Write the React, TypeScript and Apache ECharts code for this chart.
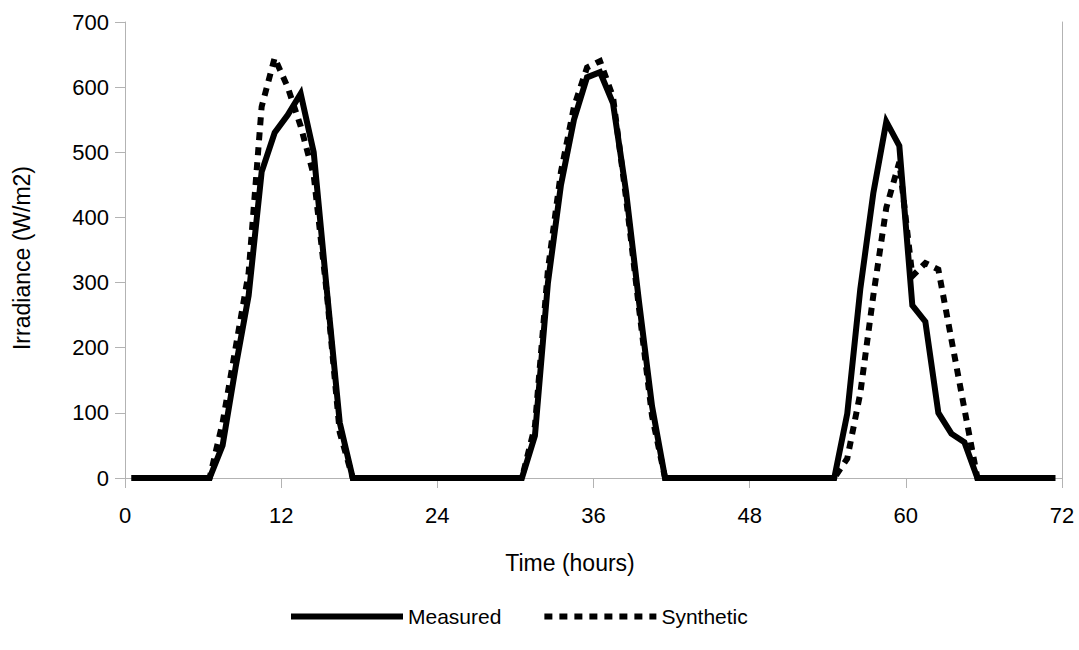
import React, { useEffect, useRef } from "react";
import * as echarts from "echarts";

// Hourly samples, plotted at the middle of each hour (0.5 … 71.5)
const hours = [
  0.5, 1.5, 2.5, 3.5, 4.5, 5.5, 6.5, 7.5, 8.5, 9.5, 10.5, 11.5,
  12.5, 13.5, 14.5, 15.5, 16.5, 17.5, 18.5, 19.5, 20.5, 21.5, 22.5, 23.5,
  24.5, 25.5, 26.5, 27.5, 28.5, 29.5, 30.5, 31.5, 32.5, 33.5, 34.5, 35.5,
  36.5, 37.5, 38.5, 39.5, 40.5, 41.5, 42.5, 43.5, 44.5, 45.5, 46.5, 47.5,
  48.5, 49.5, 50.5, 51.5, 52.5, 53.5, 54.5, 55.5, 56.5, 57.5, 58.5, 59.5,
  60.5, 61.5, 62.5, 63.5, 64.5, 65.5, 66.5, 67.5, 68.5, 69.5, 70.5, 71.5,
];

const measured = [
  0, 0, 0, 0, 0, 0, 0, 50, 170, 280, 470, 530,
  557, 590, 500, 290, 85, 0, 0, 0, 0, 0, 0, 0,
  0, 0, 0, 0, 0, 0, 0, 65, 300, 450, 550, 615,
  623, 575, 440, 270, 110, 0, 0, 0, 0, 0, 0, 0,
  0, 0, 0, 0, 0, 0, 0, 99, 290, 437, 547, 510,
  265, 240, 100, 68, 55, 0, 0, 0, 0, 0, 0, 0,
];

const synthetic = [
  0, 0, 0, 0, 0, 0, 0, 85, 200, 315, 570, 645,
  600, 540, 465, 285, 70, 0, 0, 0, 0, 0, 0, 0,
  0, 0, 0, 0, 0, 0, 0, 80, 320, 470, 570, 630,
  640, 585, 430, 260, 95, 0, 0, 0, 0, 0, 0, 0,
  0, 0, 0, 0, 0, 0, 0, 30, 130, 280, 415, 485,
  310, 330, 320, 213, 106, 0, 0, 0, 0, 0, 0, 0,
];

const xTicks = { min: 0, max: 72, interval: 12 };
const yTicks = { min: 0, max: 700, interval: 100 };

const FONT = "'Liberation Sans', Arial, sans-serif";
const AXIS_GRAY = "#b3b3b3";

export default function App() {
  const ref = useRef<HTMLDivElement>(null);

  useEffect(() => {
    if (!ref.current) return;
    const chart = echarts.init(ref.current, undefined, { renderer: "svg" });

    const pairs = (vals: number[]) => hours.map((h, i) => [h, vals[i]]);

    chart.setOption({
      animation: false,
      backgroundColor: "#ffffff",
      textStyle: { fontFamily: FONT, color: "#000" },
      grid: { left: 125, right: 17, top: 22, bottom: 172, containLabel: false },
      xAxis: {
        type: "value",
        min: xTicks.min,
        max: xTicks.max,
        interval: xTicks.interval,
        axisLine: { show: true, lineStyle: { color: AXIS_GRAY, width: 1 } },
        axisTick: { show: true, length: 10, lineStyle: { color: AXIS_GRAY } },
        splitLine: { show: false },
        axisLabel: { color: "#000", fontSize: 22, fontFamily: FONT, margin: 26 },
      },
      yAxis: [
        {
          type: "value",
          min: yTicks.min,
          max: yTicks.max,
          interval: yTicks.interval,
          axisLine: { show: true, lineStyle: { color: AXIS_GRAY, width: 1 } },
          axisTick: { show: true, length: 10, lineStyle: { color: AXIS_GRAY } },
          splitLine: { show: false },
          axisLabel: { color: "#000", fontSize: 22, fontFamily: FONT, margin: 16 },
        },
        {
          type: "value",
          position: "right",
          min: yTicks.min,
          max: yTicks.max,
          interval: yTicks.interval,
          axisLine: { show: true, lineStyle: { color: AXIS_GRAY, width: 1 } },
          axisTick: { show: false },
          axisLabel: { show: false },
          splitLine: { show: false },
        },
      ],
      legend: {
        left: 283,
        top: 601,
        itemWidth: 112,
        itemHeight: 14,
        itemGap: 40,
        textStyle: { fontSize: 21, color: "#000", fontFamily: FONT },
        itemStyle: { opacity: 0 },
        lineStyle: { width: 6 },
        data: ["Measured", "Synthetic"],
      },
      graphic: [
        {
          type: "text",
          x: 570,
          y: 563,
          style: {
            text: "Time (hours)",
            fontSize: 23,
            fontFamily: FONT,
            fill: "#000",
            align: "center",
            verticalAlign: "middle",
          },
        },
        {
          type: "text",
          x: 22,
          y: 258,
          rotation: Math.PI / 2,
          style: {
            text: "Irradiance (W/m2)",
            fontSize: 23,
            fontFamily: FONT,
            fill: "#000",
            align: "center",
            verticalAlign: "middle",
          },
        },
      ],
      series: [
        {
          name: "Measured",
          type: "line",
          data: pairs(measured),
          symbol: "none",
          lineStyle: { color: "#000", width: 6, type: "solid", join: "miter" },
          itemStyle: { color: "#000" },
        },
        {
          name: "Synthetic",
          type: "line",
          data: pairs(synthetic),
          symbol: "none",
          lineStyle: { color: "#000", width: 6, type: [8, 7], cap: "butt", join: "miter" },
          itemStyle: { color: "#000" },
        },
      ],
    });

    return () => chart.dispose();
  }, []);

  return (
    <div
      ref={ref}
      style={{ position: "absolute", left: 0, top: 0, width: 1079, height: 650 }}
    />
  );
}
